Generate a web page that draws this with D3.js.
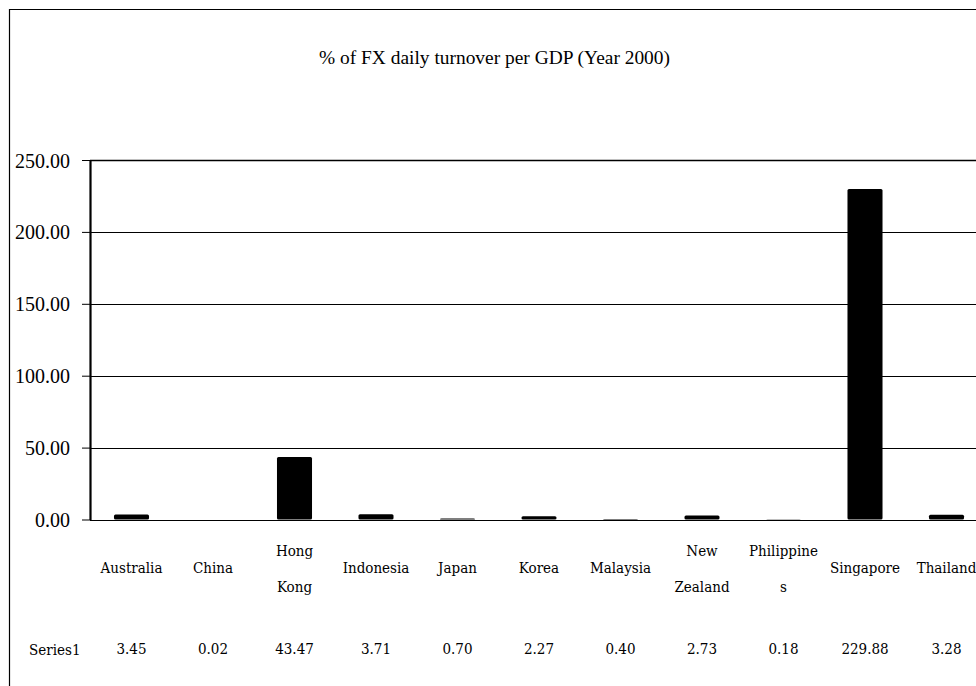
<!DOCTYPE html>
<html><head><meta charset="utf-8">
<script src="https://cdn.jsdelivr.net/npm/d3@7"></script>
<style>body{margin:0;background:#fff}svg{display:block}</style>
</head><body>
<script>
const categories = ["Australia","China","Hong Kong","Indonesia","Japan","Korea","Malaysia","New Zealand","Philippines","Singapore","Thailand"];
const labelLines = [["Australia"],["China"],["Hong","Kong"],["Indonesia"],["Japan"],["Korea"],["Malaysia"],["New","Zealand"],["Philippine","s"],["Singapore"],["Thailand"]];
const values = [3.45,0.02,43.47,3.71,0.70,2.27,0.40,2.73,0.18,229.88,3.28];
const yTicks = [0,50,100,150,200,250];
const seriesName = "Series1";
const title = "% of FX daily turnover per GDP (Year 2000)";

const SERIF='"Liberation Serif", serif';
const SLAB='"DejaVu Serif Condensed", "DejaVu Serif", serif';

const W=976,H=686;
const svg=d3.select("body").append("svg").attr("width",W).attr("height",H);
svg.append("rect").attr("width",W).attr("height",H).attr("fill","#fff");

svg.append("path").attr("d","M9.5,686 L9.5,9.5 L976,9.5").attr("fill","none").attr("stroke","#000").attr("stroke-width",1.2);

const x=d3.scaleBand().domain(categories).range([90.75,90.75+11*81.5]).paddingInner(0.57).paddingOuter(0.285);
const y=d3.scaleLinear().domain([0,250]).range([519.5,160]);

svg.append("text").attr("x",494.5).attr("y",64).attr("text-anchor","middle")
  .style("font-family",SERIF).style("font-size","18px")
  .attr("textLength",351).attr("lengthAdjust","spacingAndGlyphs").text(title);

svg.append("g").selectAll("line").data(yTicks).join("line")
  .attr("x1",90).attr("x2",W).attr("y1",d=>Math.round(y(d))+0.5).attr("y2",d=>Math.round(y(d))+0.5)
  .attr("stroke","#000").attr("stroke-width",d=>d===250?1.6:1);

const ax=svg.append("g").attr("transform","translate(90,0)").call(d3.axisLeft(y).tickValues(yTicks).tickFormat(d3.format(".2f")).tickSize(8).tickSizeOuter(0));
ax.select(".domain").attr("stroke","#000").attr("stroke-width",2.2);
ax.selectAll(".tick line").attr("stroke","#000");
ax.selectAll("text").style("font-family",SERIF).style("font-size","20px").attr("fill","#000").attr("x",-20).attr("dy","0.35em");

svg.append("g").selectAll("rect").data(values).join("rect")
  .attr("x",(d,i)=>x(categories[i])).attr("width",x.bandwidth())
  .attr("y",d=>y(d)).attr("height",d=>y(0)-y(d)).attr("fill","#000").attr("rx",1.5);

const lab=svg.append("g").style("font-family",SLAB).style("font-size","15px").attr("text-anchor","middle");
labelLines.forEach((lines,i)=>{
  const cx=x(categories[i])+x.bandwidth()/2;
  const t=lab.append("text").attr("x",cx);
  if(lines.length===1){ t.attr("y",573).text(lines[0]); }
  else{
    t.append("tspan").attr("x",cx).attr("y",556).text(lines[0]);
    t.append("tspan").attr("x",cx).attr("y",592).text(lines[1]);
  }
});

const row=svg.append("g").style("font-family",SLAB).style("font-size","15px");
row.append("text").attr("x",29).attr("y",655).text(seriesName);
row.selectAll("text.v").data(values).join("text").attr("class","v")
  .attr("x",(d,i)=>x(categories[i])+x.bandwidth()/2).attr("y",654).attr("text-anchor","middle")
  .text(d=>d3.format(".2f")(d));
</script>
</body></html>
